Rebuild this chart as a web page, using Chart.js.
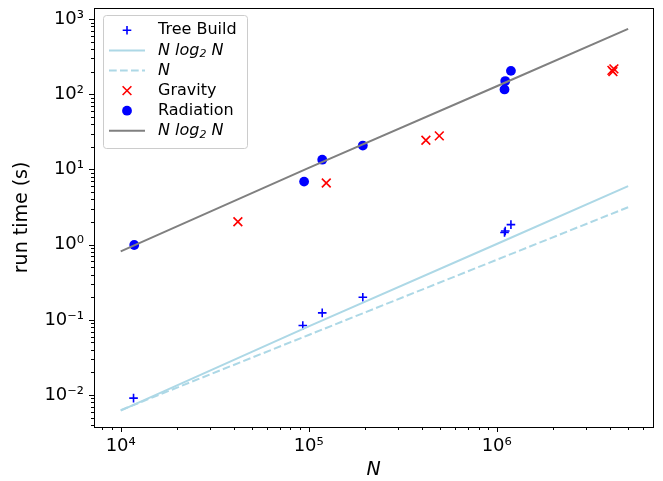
<!DOCTYPE html>
<html>
<head>
<meta charset="utf-8">
<script src="https://cdn.jsdelivr.net/npm/chart.js@4.4.1/dist/chart.umd.min.js"></script>
<style>
    html, body { margin: 0; padding: 0; background: #fff; }
    #wrap { width: 663px; height: 481px; }
</style>
</head>
<body>
<div id="wrap"><canvas id="chart" width="663" height="481"></canvas></div>
<script>
// Data
const seriesLabels = ['Tree Build', 'N log₂ N', 'N', 'Gravity', 'Radiation', 'N log₂ N'];

const treeN = [1.17e4, 9.3e4, 1.18e5, 1.94e5, 1.10e6, 1.11e6, 1.19e6];
const treeTime = [0.0091, 0.084, 0.124, 0.20, 1.45, 1.52, 1.85];

const gravityN = [4.2e4, 1.24e5, 4.2e5, 4.95e5, 4.1e6, 4.15e6, 4.2e6];
const gravityTime = [2.02, 6.6, 24.5, 28.0, 208, 200, 218];

const radiationN = [1.18e4, 9.45e4, 1.18e5, 1.94e5, 1.10e6, 1.11e6, 1.19e6];
const radiationTime = [0.99, 6.9, 13.5, 20.8, 116, 150, 205];

// model curves
const modelN = [1e4, 1e5, 1e6, 5e6];
const treeNlogN = [0.0062, 0.082, 1.02, 6.0];
const treeLinear = [0.0063, 0.063, 0.63, 3.15];
const radNlogN = [0.815, 10.5, 128, 740];

// Ticks
const xMajorTicks = [1e4, 1e5, 1e6];
const xMinorTicks = [8e3, 9e3,
    2e4, 3e4, 4e4, 5e4, 6e4, 7e4, 8e4, 9e4,
    2e5, 3e5, 4e5, 5e5, 6e5, 7e5, 8e5, 9e5,
    2e6, 3e6, 4e6, 5e6, 6e6];
const yMajorTicks = [1e-2, 1e-1, 1, 10, 100, 1000];
const yMinorTicks = [4e-3, 5e-3, 6e-3, 7e-3, 8e-3, 9e-3,
    0.02, 0.03, 0.04, 0.05, 0.06, 0.07, 0.08, 0.09,
    0.2, 0.3, 0.4, 0.5, 0.6, 0.7, 0.8, 0.9,
    2, 3, 4, 5, 6, 7, 8, 9,
    20, 30, 40, 50, 60, 70, 80, 90,
    200, 300, 400, 500, 600, 700, 800, 900];

const FONT = "'DejaVu Sans', sans-serif";
const SUP = { '-': '⁻', '0': '⁰', '1': '¹', '2': '²', '3': '³', '4': '⁴', '5': '⁵', '6': '⁶', '7': '⁷', '8': '⁸', '9': '⁹' };

function powerLabel(v) {
    const e = Math.round(Math.log10(v));
    return '10' + String(e).split('').map(c => SUP[c]).join('');
}

function points(xs, ys) {
    return xs.map((x, i) => ({ x: x, y: ys[i] }));
}

function tickList(minor, major) {
    return [...minor, ...major].sort((a, b) => a - b).map(v => ({ value: v, major: major.includes(v) }));
}

// Ticks drawn outward + full frame, like matplotlib
const axesFrame = {
    id: 'axesFrame',
    afterDatasetsDraw(chart) {
        const { ctx, chartArea: a, scales: { x, y } } = chart;
        ctx.save();
        ctx.strokeStyle = '#000';
        ctx.lineWidth = 1;
        ctx.beginPath();
        const xTick = (v, len) => {
            const px = Math.round(x.getPixelForValue(v)) + 0.5;
            ctx.moveTo(px, a.bottom);
            ctx.lineTo(px, a.bottom + len);
        };
        const yTick = (v, len) => {
            const py = Math.round(y.getPixelForValue(v)) + 0.5;
            ctx.moveTo(a.left, py);
            ctx.lineTo(a.left - len, py);
        };
        xMajorTicks.forEach(v => xTick(v, 5));
        xMinorTicks.forEach(v => xTick(v, 3));
        yMajorTicks.forEach(v => yTick(v, 5));
        yMinorTicks.forEach(v => yTick(v, 3));
        ctx.stroke();
        ctx.strokeRect(Math.round(a.left) + 0.5, Math.round(a.top) + 0.5,
            Math.round(a.right - a.left), Math.round(a.bottom - a.top));
        ctx.restore();
    }
};

function drawMathLabel(ctx, text, x, y) {
    const italic = text === 'N' || text.includes('log');
    if (!italic) {
        ctx.font = '16px ' + FONT;
        ctx.fillText(text, x, y);
        return;
    }
    ctx.font = 'italic 16px ' + FONT;
    const parts = text.split('₂');
    ctx.fillText(parts[0], x, y);
    if (parts.length > 1) {
        let cx = x + ctx.measureText(parts[0]).width;
        ctx.font = 'italic 11px ' + FONT;
        ctx.fillText('2', cx, y + 4);
        cx += ctx.measureText('2').width;
        ctx.font = 'italic 16px ' + FONT;
        ctx.fillText(parts[1], cx, y);
    }
}

// Legend box in the upper left of the axes
const boxLegend = {
    id: 'boxLegend',
    afterDraw(chart) {
        const ctx = chart.ctx;
        const left = 103.5, top = 15.5, w = 144, h = 133;
        ctx.save();
        ctx.beginPath();
        ctx.roundRect(left, top, w, h, 3);
        ctx.fillStyle = 'rgba(255,255,255,0.8)';
        ctx.fill();
        ctx.strokeStyle = '#cccccc';
        ctx.lineWidth = 1;
        ctx.stroke();

        chart.data.datasets.forEach((ds, i) => {
            const cy = 30.3 + i * 20.1;
            const cx = 127;
            ctx.save();
            if (ds.showLine) {
                ctx.strokeStyle = ds.borderColor;
                ctx.lineWidth = ds.borderWidth;
                ctx.setLineDash(ds.borderDash || []);
                ctx.beginPath();
                ctx.moveTo(109, cy);
                ctx.lineTo(145, cy);
                ctx.stroke();
            } else {
                ctx.strokeStyle = ds.borderColor;
                ctx.fillStyle = ds.backgroundColor;
                ctx.lineWidth = ds.pointBorderWidth;
                const r = ds.pointRadius;
                ctx.beginPath();
                if (ds.pointStyle === 'cross') {
                    ctx.moveTo(cx - r, cy); ctx.lineTo(cx + r, cy);
                    ctx.moveTo(cx, cy - r); ctx.lineTo(cx, cy + r);
                    ctx.stroke();
                } else if (ds.pointStyle === 'crossRot') {
                    const d = r * Math.SQRT1_2;
                    ctx.moveTo(cx - d, cy - d); ctx.lineTo(cx + d, cy + d);
                    ctx.moveTo(cx + d, cy - d); ctx.lineTo(cx - d, cy + d);
                    ctx.stroke();
                } else {
                    ctx.arc(cx, cy, r, 0, Math.PI * 2);
                    ctx.fill();
                }
            }
            ctx.restore();
            ctx.fillStyle = '#000';
            ctx.textBaseline = 'middle';
            ctx.textAlign = 'left';
            drawMathLabel(ctx, ds.label, 158, cy);
        });
        ctx.restore();
    }
};

Chart.defaults.color = '#000';
Chart.defaults.font.family = FONT;

const chart = new Chart(document.getElementById('chart'), {
    type: 'scatter',
    data: {
        datasets: [
            {
                label: seriesLabels[0],
                data: points(treeN, treeTime),
                pointStyle: 'cross',
                pointRadius: 4.3,
                pointBorderWidth: 1.6,
                borderColor: '#0000ff',
                backgroundColor: '#0000ff',
                order: 6
            },
            {
                label: seriesLabels[1],
                data: points(modelN, treeNlogN),
                showLine: true,
                pointRadius: 0,
                borderColor: '#add8e6',
                borderWidth: 2,
                order: 5
            },
            {
                label: seriesLabels[2],
                data: points(modelN, treeLinear),
                showLine: true,
                pointRadius: 0,
                borderColor: '#add8e6',
                borderWidth: 2,
                borderDash: [7.7, 3.3],
                order: 4
            },
            {
                label: seriesLabels[3],
                data: points(gravityN, gravityTime),
                pointStyle: 'crossRot',
                pointRadius: 6.2,
                pointBorderWidth: 1.6,
                borderColor: '#ff0000',
                backgroundColor: '#ff0000',
                order: 3
            },
            {
                label: seriesLabels[4],
                data: points(radiationN, radiationTime),
                pointStyle: 'circle',
                pointRadius: 4.9,
                pointBorderWidth: 0,
                borderColor: '#0000ff',
                backgroundColor: '#0000ff',
                order: 2
            },
            {
                label: seriesLabels[5],
                data: points(modelN, radNlogN),
                showLine: true,
                pointRadius: 0,
                borderColor: '#808080',
                borderWidth: 2,
                order: 1
            }
        ]
    },
    options: {
        responsive: false,
        animation: false,
        events: [],
        layout: { padding: { top: 7, right: 10, bottom: 0, left: 0 } },
        plugins: {
            legend: { display: false },
            tooltip: { enabled: false }
        },
        scales: {
            x: {
                type: 'logarithmic',
                min: 7210,
                max: 6.78e6,
                grid: { display: false, drawTicks: true, tickLength: 5 },
                border: { display: false },
                afterBuildTicks: (scale) => { scale.ticks = tickList(xMinorTicks, xMajorTicks); },
                afterFit: (scale) => {
                    scale.height = 54;
                    scale.paddingLeft = 0;
                    scale.paddingRight = 0;
                },
                ticks: {
                    autoSkip: false,
                    maxRotation: 0,
                    minRotation: 0,
                    padding: 4,
                    font: { size: 18 },
                    callback: (v) => xMajorTicks.includes(v) ? powerLabel(v) : null
                },
                title: {
                    display: true,
                    text: 'N',
                    font: { size: 19, style: 'italic' },
                    padding: { top: 0, bottom: 0 }
                }
            },
            y: {
                type: 'logarithmic',
                min: 0.00376,
                max: 1413,
                grid: { display: false, drawTicks: true, tickLength: 5 },
                border: { display: false },
                afterBuildTicks: (scale) => { scale.ticks = tickList(yMinorTicks, yMajorTicks); },
                afterFit: (scale) => {
                    scale.width = 94;
                    scale.paddingTop = 0;
                    scale.paddingBottom = 0;
                },
                ticks: {
                    autoSkip: false,
                    padding: 5,
                    font: { size: 18 },
                    callback: (v) => yMajorTicks.includes(v) ? powerLabel(v) : null
                },
                title: {
                    display: true,
                    text: 'run time (s)',
                    font: { size: 19 },
                    padding: { top: 11, bottom: 0 }
                }
            }
        }
    },
    plugins: [axesFrame, boxLegend]
});
</script>
</body>
</html>
